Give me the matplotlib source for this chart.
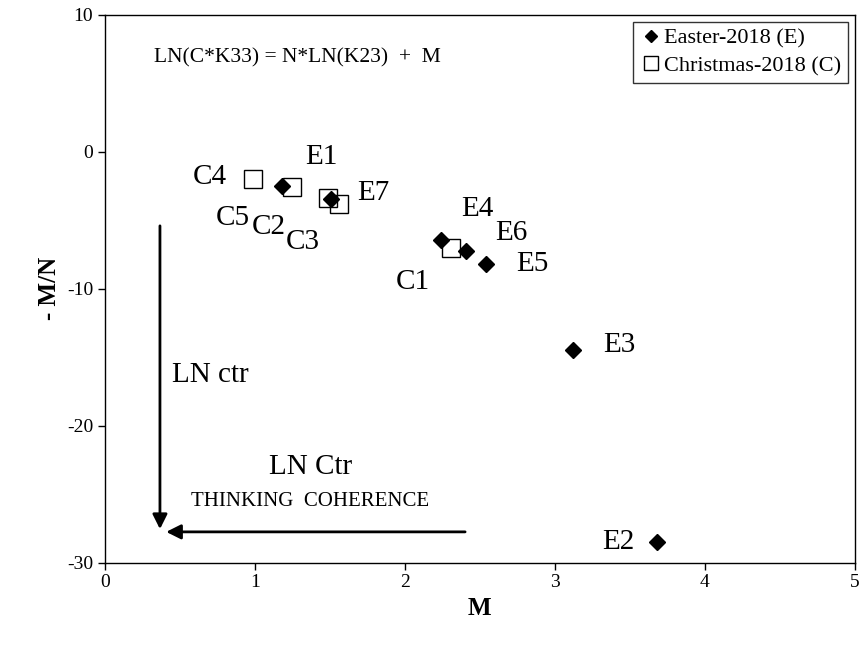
import matplotlib
matplotlib.use("Agg")
import matplotlib.pyplot as plt

plt.rcParams['font.family'] = ['Liberation Serif', 'DejaVu Serif']
plt.rcParams['axes.unicode_minus'] = False

# Easter-2018 (E) series
easter_labels = ["E1", "E2", "E3", "E4", "E5", "E6", "E7"]
easter_m = [1.18, 3.68, 3.12, 2.24, 2.54, 2.41, 1.51]
easter_mn = [-2.46, -28.5, -14.5, -6.45, -8.2, -7.27, -3.43]

# Christmas-2018 (C) series
xmas_labels = ["C1", "C2", "C3", "C4", "C5"]
xmas_m = [2.31, 1.49, 1.56, 0.99, 1.25]
xmas_mn = [-7.03, -3.36, -3.82, -1.97, -2.58]

# label placement (data coords, alignment)
label_pos = {
    "E1": (1.44, -0.36, "center"),
    "E2": (3.42, -28.5, "center"),
    "E3": (3.43, -14.1, "center"),
    "E4": (2.48, -4.2, "center"),
    "E5": (2.85, -8.2, "center"),
    "E6": (2.71, -5.9, "center"),
    "E7": (1.68, -3.0, "left"),
    "C1": (2.05, -9.5, "center"),
    "C2": (1.09, -5.5, "center"),
    "C3": (1.32, -6.6, "center"),
    "C4": (0.70, -1.82, "center"),
    "C5": (0.85, -4.8, "center"),
}

fig = plt.figure(figsize=(8.67, 6.49), dpi=100)
ax = fig.add_axes([0.121, 0.133, 0.865, 0.844])

ax.plot(easter_m, easter_mn, "D", color="black", ms=8, label="Easter-2018 (E)", zorder=3)
ax.plot(xmas_m, xmas_mn, "s", mfc="none", mec="black", mew=1.0, ms=13,
        label="Christmas-2018 (C)", zorder=4)

for name, (lx, ly, ha) in label_pos.items():
    ax.text(lx, ly, name, fontsize=21, ha=ha, va="center")

ax.text(0.33, 6.9, "LN(C*K33) = N*LN(K23)  +  M", fontsize=15.5, va="center")

# arrows
ax.annotate("", xy=(0.367, -27.75), xytext=(0.367, -5.2),
            arrowprops=dict(arrowstyle="-|>", lw=2.0, color="black", mutation_scale=22))
ax.annotate("", xy=(0.39, -27.75), xytext=(2.42, -27.75),
            arrowprops=dict(arrowstyle="-|>", lw=2.0, color="black", mutation_scale=22))
ax.text(0.45, -16.3, "LN ctr", fontsize=21, va="center")
ax.text(1.37, -23.0, "LN Ctr", fontsize=21, ha="center", va="center")
ax.text(1.37, -25.5, "THINKING  COHERENCE", fontsize=15, ha="center", va="center")

ax.set_xlim(0, 5)
ax.set_ylim(-30, 10)
ax.set_xticks([0, 1, 2, 3, 4, 5])
ax.set_yticks([-30, -20, -10, 0, 10])
ax.tick_params(direction="out", length=5, width=1, labelsize=14)
for sp in ax.spines.values():
    sp.set_linewidth(1.0)
ax.set_xlabel("M", fontsize=18, fontweight="bold")
ax.set_ylabel("- M/N", fontsize=18, fontweight="bold")

leg = ax.legend(loc="upper right", fontsize=16, frameon=True, fancybox=False,
                edgecolor="black", handletextpad=0.1, handlelength=1.0,
                borderaxespad=0.3, markerscale=0.8, borderpad=0.3, labelspacing=0.3)
leg.get_frame().set_linewidth(1.0)

fig.savefig("out.png", dpi=100)
